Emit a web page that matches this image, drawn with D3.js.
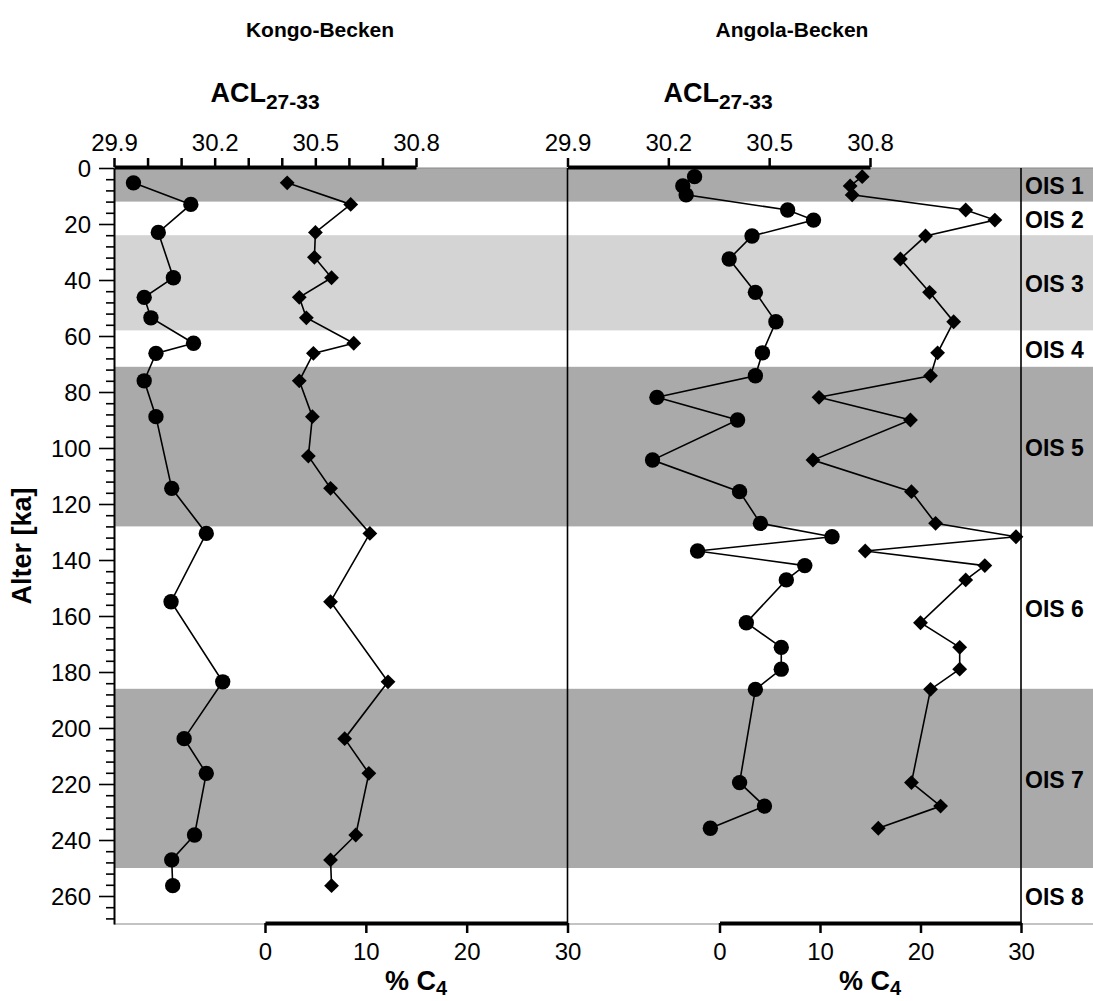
<!DOCTYPE html>
<html><head><meta charset="utf-8">
<script src="https://cdn.jsdelivr.net/npm/d3@7"></script>
<style>body{margin:0;background:#fff} text{font-family:"Liberation Sans",Arial,Helvetica,sans-serif;fill:#000}</style>
</head><body><svg id="c" width="1093" height="1001"></svg>
<script>
// ---- data ----
const kongoAgeACL = [5.3,13,23,39.2,46.2,53.5,62.6,66.2,76,88.8,114.4,130.5,154.9,183.5,203.8,216.2,238.2,247.1,256.3];
const kongoACL    = [29.958,30.129,30.032,30.077,29.99,30.01,30.137,30.025,29.99,30.025,30.072,30.175,30.07,30.224,30.109,30.175,30.14,30.072,30.075];
const kongoAgeC4  = [5.3,13,23,31.9,39.2,46.2,53.5,62.6,66.2,76,88.8,102.9,114.4,130.5,154.9,183.5,203.8,216.2,238.2,247.1,256.3];
const kongoC4     = [2.2,8.5,5.0,4.9,6.6,3.4,4.1,8.8,4.8,3.4,4.7,4.3,6.5,10.4,6.5,12.2,7.9,10.3,9.0,6.5,6.6];
const angolaAge   = [3.1,6.4,9.6,15,18.6,24.3,32.5,44.4,54.9,66,74.2,81.9,90,104.3,115.6,126.9,131.7,136.8,142,147.1,162.4,171.2,179,186.2,219.5,227.9,235.8];
const angolaACL   = [30.278,30.243,30.253,30.555,30.632,30.449,30.381,30.459,30.52,30.48,30.459,30.166,30.406,30.153,30.412,30.474,30.687,30.287,30.606,30.551,30.432,30.536,30.536,30.459,30.412,30.486,30.325];
const angolaC4    = [14.2,13.0,13.2,24.5,27.4,20.5,18.0,20.9,23.3,21.7,21.0,9.9,19.0,9.3,19.1,21.5,29.5,14.5,26.4,24.5,20.0,23.9,23.9,21.0,19.1,22.0,15.8];
const oisLabels   = ["OIS 1","OIS 2","OIS 3","OIS 4","OIS 5","OIS 6","OIS 7","OIS 8"];
const oisBounds   = [0,12,24,58,71,128,186,250,270];
const oisShade    = ["dark","none","light","none","dark","none","dark","none"];
const ageTicks    = [0,20,40,60,80,100,120,140,160,180,200,220,240,260];
const aclTicks    = [29.9,30.2,30.5,30.8];
const c4Ticks     = [0,10,20,30];
const panelTitles = ["Kongo-Becken","Angola-Becken"];

// ---- drawing ----
const W = 1093, H = 1001;
const svg = d3.select("#c");
svg.append("rect").attr("width",W).attr("height",H).attr("fill","#fff");

const y = d3.scaleLinear([0,270],[168,924]);
const xL = 114, xR = 1093;
const xAclL = d3.scaleLinear([29.9,30.8],[114,416]);
const xC4L  = d3.scaleLinear([0,30],[265,567.5]);
const xAclR = d3.scaleLinear([29.9,30.8],[567.5,870]);
const xC4R  = d3.scaleLinear([0,30],[719.5,1021]);
const shadeCol = {dark:"#aaaaaa", light:"#d4d4d4"};

// bands
oisShade.forEach((s,i)=>{
  if(s==="none") return;
  svg.append("rect").attr("x",xL).attr("width",xR-xL)
    .attr("y",y(oisBounds[i])).attr("height",y(oisBounds[i+1])-y(oisBounds[i]))
    .attr("fill",shadeCol[s]);
});
// frame lines (thin grey top/bottom)
[0,270].forEach(v=>{
  svg.append("line").attr("x1",xL).attr("x2",xR).attr("y1",y(v)).attr("y2",y(v))
    .attr("stroke","#888").attr("stroke-width",1);
});
// vertical separators
[xC4L(30), xC4R(30)].forEach(x=>{
  svg.append("line").attr("x1",x).attr("x2",x).attr("y1",y(0)).attr("y2",y(270))
    .attr("stroke","#000").attr("stroke-width",1.6);
});

// y axis
const yAxis = svg.append("g").attr("transform",`translate(${xL},0)`)
  .call(d3.axisLeft(y).tickValues(d3.range(0,271,4)).tickSize(8).tickSizeOuter(0)
        .tickFormat(d=>ageTicks.includes(d)?d:""));
yAxis.select(".domain").attr("stroke-width",2);
yAxis.selectAll(".tick line").attr("stroke-width",1.6)
  .attr("x2",d=>ageTicks.includes(d)?-15:-8);
yAxis.selectAll(".tick text").attr("x",-23).style("font-size","24px").attr("dy","0.36em");
svg.append("text").attr("transform",`translate(31,${y(135)}) rotate(-90)`)
  .attr("text-anchor","middle").style("font-size","27px").style("font-weight","bold").text("Alter [ka]");

function topAxis(scale, minor){
  const vals = minor ? d3.range(0,10).map(i=>+(29.9+i*0.1).toFixed(1)) : aclTicks;
  const g = svg.append("g").attr("transform",`translate(0,${y(0)-1})`)
    .call(d3.axisTop(scale).tickValues(vals).tickSize(9).tickSizeOuter(0)
      .tickFormat(d=>aclTicks.includes(d)?d3.format(".1f")(d):""));
  g.select(".domain").attr("stroke-width",4);
  g.selectAll(".tick line").attr("stroke-width",2.5);
  g.selectAll(".tick text").attr("y",-16).style("font-size","24px");
  return g;
}
topAxis(xAclL,true);
topAxis(xAclR,false);

function bottomAxis(scale){
  const g = svg.append("g").attr("transform",`translate(0,${y(270)-1})`)
    .call(d3.axisBottom(scale).tickValues(c4Ticks).tickSize(10).tickSizeOuter(0));
  g.select(".domain").attr("stroke-width",4);
  g.selectAll(".tick line").attr("stroke-width",2.5);
  g.selectAll(".tick text").attr("y",20).style("font-size","24px");
  return g;
}
bottomAxis(xC4L);
bottomAxis(xC4R);

// axis titles
function aclTitle(cx){
  const t = svg.append("text").attr("x",cx).attr("y",102).attr("text-anchor","middle")
    .style("font-weight","bold").style("font-size","27px");
  t.append("tspan").text("ACL");
  t.append("tspan").attr("dy",7).style("font-size","21px").text("27-33");
}
aclTitle(265); aclTitle(718);
function c4Title(cx){
  const t = svg.append("text").attr("x",cx).attr("y",990).attr("text-anchor","middle")
    .style("font-weight","bold").style("font-size","27px");
  t.append("tspan").text("% C");
  t.append("tspan").attr("dy",5).style("font-size","20px").text("4");
}
c4Title(416); c4Title(870);

// panel titles
[[320,panelTitles[0]],[792,panelTitles[1]]].forEach(([x,t])=>{
  svg.append("text").attr("x",x).attr("y",37).attr("text-anchor","middle")
    .style("font-weight","bold").style("font-size","21px").text(t);
});

// OIS labels
oisLabels.forEach((l,i)=>{
  svg.append("text").attr("x",1025).attr("y",y((oisBounds[i]+oisBounds[i+1])/2)).attr("dy","0.4em")
    .style("font-weight","bold").style("font-size","23px").text(l);
});

// series
function series(ages, vals, xs, shape){
  const pts = ages.map((a,i)=>[xs(vals[i]), y(a)]);
  svg.append("path").attr("d",d3.line()(pts)).attr("fill","none").attr("stroke","#000").attr("stroke-width",1.6);
  svg.append("g").selectAll("path").data(pts).join("path")
    .attr("transform",d=>`translate(${d[0]},${d[1]})${shape==="circle"?"":" rotate(45)"}`)
    .attr("d", shape==="circle" ? d3.symbol(d3.symbolCircle, 185) : d3.symbol(d3.symbolSquare, 110))
    .attr("fill","#000");
}
series(kongoAgeACL, kongoACL, xAclL, "circle");
series(kongoAgeC4, kongoC4, xC4L, "diamond");
series(angolaAge, angolaACL, xAclR, "circle");
series(angolaAge, angolaC4, xC4R, "diamond");
</script></body></html>
